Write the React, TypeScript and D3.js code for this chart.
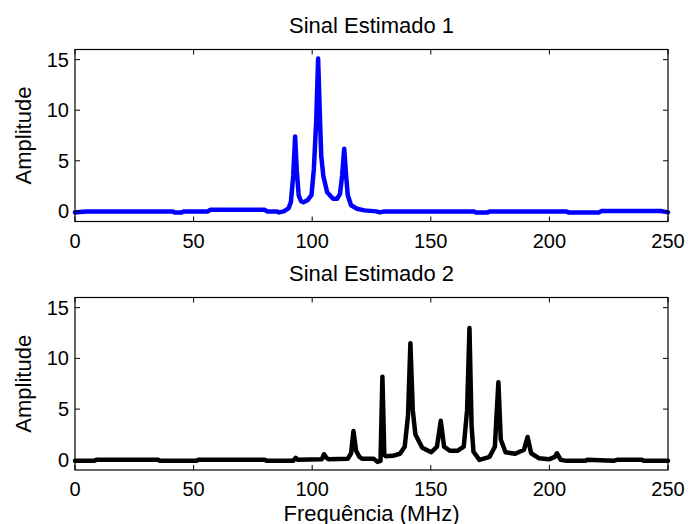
import React from "react";
import * as d3 from "d3";

// ---- data ----
const xTicks = [0, 50, 100, 150, 200, 250];
const yTicks = [0, 5, 10, 15];
const xDomain: [number, number] = [0, 250];
const yDomain: [number, number] = [-1, 16];

const freq1 = [0, 2, 5, 41, 42, 45, 46, 56, 57, 80, 81, 85, 86, 88, 90, 91, 92, 92.8, 93.5, 94.3, 95.3, 96.3, 98, 99.7, 100.7, 101.7, 102.5, 103.3, 103.8, 104.7, 106.3, 108.8, 110.5, 111.7, 112.6, 113.5, 114.3, 115, 116.4, 118.9, 122, 127, 128.5, 130.5, 168, 169, 174, 175, 207, 208, 221, 222, 247, 249, 250];
const amp1 = [-0.1, -0.05, 0, 0, -0.1, -0.1, 0, 0, 0.15, 0.15, 0, 0, -0.1, 0, 0.3, 0.9, 3.5, 7.4, 4, 1.6, 1.0, 0.9, 1.1, 1.6, 4.2, 9, 15.1, 9, 5.5, 3.5, 1.9, 1.25, 1.25, 1.7, 3.5, 6.2, 3.5, 1.6, 0.6, 0.26, 0.1, 0, -0.1, 0, 0, -0.1, -0.1, 0, 0, -0.1, -0.1, 0.03, 0.03, -0.05, -0.1];

const freq2 = [0, 8, 9, 35, 36, 51, 52, 80, 81, 92, 93, 94, 104, 105, 106, 107, 115, 116.4, 117.4, 118.5, 119.9, 121, 126, 127.5, 128.8, 129.6, 130.4, 131, 134, 137, 139, 140.4, 141.4, 142.4, 143.5, 146.4, 150.2, 152.6, 154.2, 155.6, 158, 161.4, 163.9, 165.3, 166.3, 167.2, 168, 170.5, 174.8, 177, 178.5, 179.5, 181.5, 185.6, 189.3, 190.8, 192.3, 195.7, 199.8, 202.3, 203.2, 204.8, 207.3, 215, 216, 227, 228.5, 239, 240, 250];
const amp2 = [-0.1, -0.1, 0, 0, -0.1, -0.1, 0, 0, -0.1, -0.1, 0.2, 0, 0.05, 0.55, 0.2, 0.05, 0.1, 0.65, 2.85, 0.9, 0.3, 0.1, 0.1, -0.2, -0.1, 8.2, 0.5, 0.35, 0.4, 0.6, 1.3, 4.4, 11.5, 4.9, 2.5, 1.2, 0.75, 1.3, 3.85, 1.3, 0.9, 0.9, 1.3, 4.9, 13.0, 3.3, 0.8, 0, 0.3, 1.3, 7.65, 2.0, 0.75, 0.6, 1.0, 2.25, 0.65, 0.15, 0.05, 0.3, 0.65, 0, -0.1, -0.1, 0, -0.1, 0, 0, -0.1, -0.1];

const titles = ["Sinal Estimado 1", "Sinal Estimado 2"];
const colors = ["#0000ff", "#000000"];
const yLabel = "Amplitude";
const xLabel = "Frequência (MHz)";

const FONT = "'Liberation Sans', Arial, Helvetica, sans-serif";
const W = 688;
const H = 524;
const LEFT = 75;
const RIGHT = 668;
const panels = [
  { top: 49.5, bottom: 221.5, f: freq1, a: amp1 },
  { top: 297.5, bottom: 470, f: freq2, a: amp2 },
];

function Panel({ idx }: { idx: number }) {
  const p = panels[idx];
  const x = d3.scaleLinear().domain(xDomain).range([LEFT, RIGHT]);
  const y = d3.scaleLinear().domain(yDomain).range([p.bottom, p.top]);
  const pts: [number, number][] = p.f.map((f, i) => [f, p.a[i]]);
  const line = d3
    .line<[number, number]>()
    .x((d) => x(d[0]))
    .y((d) => y(d[1]))
    .curve(d3.curveLinear);
  const tl = 5;
  const midY = (p.top + p.bottom) / 2;
  return (
    <g>
      <rect x={LEFT} y={p.top} width={RIGHT - LEFT} height={p.bottom - p.top} fill="#fff" />
      <path
        d={line(pts) || ""}
        fill="none"
        stroke={colors[idx]}
        strokeWidth={4.5}
        strokeLinejoin="round"
        strokeLinecap="round"
      />
      <rect
        x={LEFT}
        y={p.top}
        width={RIGHT - LEFT}
        height={p.bottom - p.top}
        fill="none"
        stroke="#000"
        strokeWidth={1.2}
      />
      {xTicks.map((t) => (
        <g key={"x" + t}>
          <line x1={x(t)} x2={x(t)} y1={p.bottom} y2={p.bottom - tl} stroke="#000" strokeWidth={1} />
          <line x1={x(t)} x2={x(t)} y1={p.top} y2={p.top + tl} stroke="#000" strokeWidth={1} />
          <text x={x(t)} y={p.bottom + 26} textAnchor="middle" fontSize={20} fontFamily={FONT} fill="#000">
            {t}
          </text>
        </g>
      ))}
      {yTicks.map((t) => (
        <g key={"y" + t}>
          <line x1={LEFT} x2={LEFT + tl} y1={y(t)} y2={y(t)} stroke="#000" strokeWidth={1} />
          <line x1={RIGHT} x2={RIGHT - tl} y1={y(t)} y2={y(t)} stroke="#000" strokeWidth={1} />
          <text x={69} y={y(t) + 7} textAnchor="end" fontSize={20} fontFamily={FONT} fill="#000">
            {t}
          </text>
        </g>
      ))}
      <text
        x={(LEFT + RIGHT) / 2}
        y={p.top - 16.5}
        textAnchor="middle"
        fontSize={22}
        fontFamily={FONT}
        fill="#000"
      >
        {titles[idx]}
      </text>
      <text
        transform={`translate(31,${midY}) rotate(-90)`}
        textAnchor="middle"
        fontSize={22}
        fontFamily={FONT}
        fill="#000"
      >
        {yLabel}
      </text>
    </g>
  );
}

export default function App() {
  return (
    <div style={{ position: "absolute", left: 0, top: 0 }}>
      <svg width={W} height={H} style={{ display: "block", background: "#fff" }}>
        <rect width={W} height={H} fill="#fff" />
        <Panel idx={0} />
        <Panel idx={1} />
        <text x={(LEFT + RIGHT) / 2} y={520.5} textAnchor="middle" fontSize={22} fontFamily={FONT} fill="#000">
          {xLabel}
        </text>
      </svg>
    </div>
  );
}
